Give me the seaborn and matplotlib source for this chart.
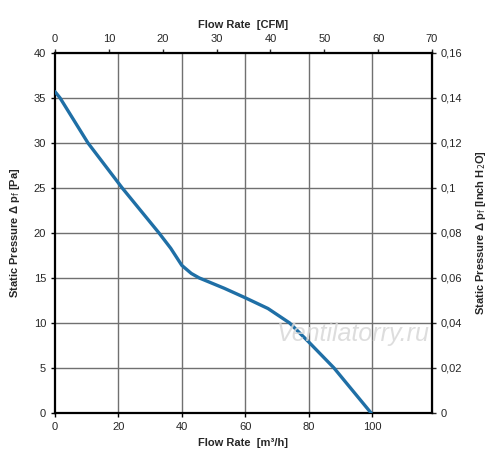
import numpy as np
import pandas as pd
import seaborn as sns
import matplotlib.pyplot as plt
from matplotlib.ticker import FuncFormatter

# fan curve
flow_m3h = [0, 1.6, 10.4, 21.2, 32.8, 36.5, 40, 43, 45.5, 53.4,
            60, 67.2, 74, 80, 88, 99.7]
pressure_pa = [35.7, 35, 30, 25, 20, 18.3, 16.4, 15.5, 15.0, 13.85,
               12.8, 11.6, 10, 7.9, 5, 0]

cfm_ticks = [0, 10, 20, 30, 40, 50, 60, 70]
m3h_ticks = [0, 20, 40, 60, 80, 100]
pa_ticks = [0, 5, 10, 15, 20, 25, 30, 35, 40]
inch_ticks = [0, 0.02, 0.04, 0.06, 0.08, 0.1, 0.12, 0.14, 0.16]

CFM = 1.699
xmax = 70 * CFM

sns.set_style('white')
plt.rcParams['font.family'] = ['Liberation Sans', 'DejaVu Sans']

df = pd.DataFrame({'flow': flow_m3h, 'p': pressure_pa})

fig = plt.figure(figsize=(5, 4.73), dpi=100)
ax = fig.add_axes([0.11, 0.127, 0.754, 0.761])

for v in m3h_ticks[1:]:
    ax.axvline(v, color='#707070', lw=1, zorder=1)
for v in pa_ticks[1:-1]:
    ax.axhline(v, color='#707070', lw=1, zorder=1)

sns.lineplot(data=df, x='flow', y='p', ax=ax, color='#1f6fa6', lw=2.4, zorder=3)

ax.set_xlim(0, xmax)
ax.set_ylim(0, 40)
ax.set_xticks(m3h_ticks)
ax.set_yticks(pa_ticks)
ax.tick_params(labelsize=8, length=3, width=1, color='black', direction='out', left=True, bottom=True)
ax.set_xlabel('Flow Rate  [m³/h]', fontsize=8, fontweight='bold', labelpad=4)
ax.set_ylabel('Static Pressure Δ p$_{\\rm f}$ [Pa]', fontsize=8, fontweight='bold', labelpad=8)
for s in ax.spines.values():
    s.set_color('black')
    s.set_linewidth(1.6)

top = ax.secondary_xaxis('top', functions=(lambda x: x / CFM, lambda c: c * CFM))
top.set_xticks(cfm_ticks)
top.tick_params(labelsize=8, length=3, width=1, direction='out')
top.set_xlabel('Flow Rate  [CFM]', fontsize=8, fontweight='bold', labelpad=4)

right = ax.secondary_yaxis('right', functions=(lambda p: p * 0.004, lambda i: i / 0.004))
right.set_yticks(inch_ticks)
right.yaxis.set_major_formatter(FuncFormatter(lambda v, pos: f'{v:g}'.replace('.', ',')))
right.tick_params(labelsize=8, length=3, width=1, direction='out')
right.set_ylabel('Static Pressure Δ p$_{\\rm f}$ [Inch H$_2$O]', fontsize=8, fontweight='bold', labelpad=8)

ax.text(0.79, 0.22, 'Ventilatorry.ru', transform=ax.transAxes, fontsize=18,
        style='italic', color='#d8d8d8', alpha=0.85, ha='center', va='center', zorder=4)

fig.savefig('out.png', dpi=100)
